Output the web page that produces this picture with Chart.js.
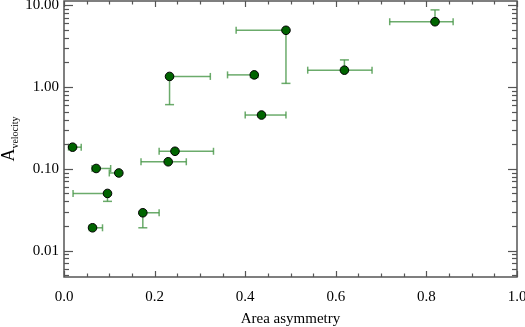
<!DOCTYPE html>
<html>
<head>
<meta charset="utf-8">
<script src="https://cdn.jsdelivr.net/npm/chart.js@4.4.1/dist/chart.umd.min.js"></script>
<style>
  html, body { margin: 0; padding: 0; background: #fff; }
  #wrap { width: 525px; height: 327px; }
</style>
</head>
<body>
<div id="wrap"><canvas id="chart"></canvas></div>
<script>
// area asymmetry vs velocity asymmetry
const areaAsym  = [0.019, 0.071, 0.121, 0.096, 0.174, 0.063, 0.245, 0.230, 0.233, 0.420, 0.436, 0.490, 0.619, 0.819];
const velAsym   = [0.184, 0.101, 0.089, 0.050, 0.029, 0.019, 0.164, 0.122, 1.35, 1.41, 0.455, 4.95, 1.61, 6.3];
// error bar ends, null where the bar is not drawn
const areaLow   = [0.010, 0.062, 0.100, 0.020, null, 0.056, 0.210, 0.170, null, 0.361, 0.400, 0.380, 0.538, 0.719];
const areaHigh  = [0.038, 0.103, null, null, 0.210, 0.085, 0.330, 0.270, 0.323, null, 0.490, null, 0.680, 0.859];
const velLow    = [null, null, null, 0.040, 0.019, null, null, null, 0.61, 1.31, null, 1.11, null, null];
const velHigh   = [null, null, null, null, null, null, null, null, null, null, null, null, 2.15, 8.8];

const xTickValues = [0, 0.2, 0.4, 0.6, 0.8, 1.0];
const yTickValues = [0.01, 0.1, 1, 10];

const serif = '"Liberation Serif", "DejaVu Serif", serif';
const frameColor = '#555';
const barColor = 'rgba(70,150,70,0.8)';

const points = areaAsym.map((x, i) => ({ x, y: velAsym[i] }));

const errorBars = {
    id: 'errorBars',
    beforeDatasetsDraw(chart) {
        const { ctx, scales: { x, y } } = chart;
        const cap = 3.5;
        ctx.save();
        ctx.strokeStyle = barColor;
        ctx.lineWidth = 1.5;
        points.forEach((p, i) => {
            const px = x.getPixelForValue(p.x);
            const py = y.getPixelForValue(p.y);
            const seg = (x1, y1, x2, y2) => {
                ctx.beginPath();
                ctx.moveTo(x1, y1);
                ctx.lineTo(x2, y2);
                ctx.stroke();
            };
            [areaLow[i], areaHigh[i]].forEach(v => {
                if (v === null) return;
                const ex = x.getPixelForValue(v);
                seg(px, py, ex, py);
                seg(ex, py - cap, ex, py + cap);
            });
            [velLow[i], velHigh[i]].forEach(v => {
                if (v === null) return;
                const ey = y.getPixelForValue(v);
                seg(px, py, px, ey);
                seg(px - cap - 1, ey, px + cap + 1, ey);
            });
        });
        ctx.restore();
    }
};

// box with inward ticks on all four sides, plus axis titles
const frame = {
    id: 'frame',
    afterDraw(chart) {
        const { ctx, chartArea: a, scales: { x, y } } = chart;
        ctx.save();
        ctx.strokeStyle = frameColor;
        ctx.lineWidth = 1.5;
        ctx.strokeRect(a.left, a.top, a.right - a.left, a.bottom - a.top);

        ctx.lineWidth = 1.2;
        const line = (x1, y1, x2, y2) => {
            ctx.beginPath();
            ctx.moveTo(x1, y1);
            ctx.lineTo(x2, y2);
            ctx.stroke();
        };

        // x ticks every 0.05, long ones at the labels
        for (let k = 0; k <= 20; k++) {
            const v = k * 0.05;
            const px = Math.round(x.getPixelForValue(v)) + 0.5;
            const len = k % 4 === 0 ? 6 : 3.5;
            line(px, a.bottom, px, a.bottom - len);
            line(px, a.top, px, a.top + len);
        }

        // y ticks: decades long, 2..9 short
        for (let e = -3; e <= 1; e++) {
            for (let m = 1; m <= 9; m++) {
                const v = m * Math.pow(10, e);
                if (v < y.min || v > y.max) continue;
                const py = Math.round(y.getPixelForValue(v)) + 0.5;
                const len = m === 1 ? 9 : 5;
                line(a.left, py, a.left + len, py);
                line(a.right, py, a.right - len, py);
            }
        }

        ctx.fillStyle = '#000';
        ctx.font = '15px ' + serif;
        ctx.textAlign = 'center';
        ctx.textBaseline = 'middle';
        ctx.fillText('Area asymmetry', (a.left + a.right) / 2, 319);

        ctx.translate(8, (a.top + a.bottom) / 2);
        ctx.rotate(-Math.PI / 2);
        ctx.textAlign = 'left';
        ctx.textBaseline = 'alphabetic';
        ctx.font = '18px ' + serif;
        const wA = ctx.measureText('A').width;
        ctx.font = '10px ' + serif;
        const wSub = ctx.measureText('velocity').width;
        const start = -(wA + wSub) / 2;
        ctx.font = '18px ' + serif;
        ctx.fillText('A', start, 6);
        ctx.font = '10px ' + serif;
        ctx.fillText('velocity', start + wA, 10);
        ctx.restore();
    }
};

new Chart(document.getElementById('chart'), {
    type: 'scatter',
    data: {
        datasets: [{
            data: points,
            backgroundColor: '#006400',
            borderColor: '#000',
            borderWidth: 1,
            pointRadius: 4.3,
        }],
    },
    options: {
        responsive: true,
        maintainAspectRatio: false,
        animation: false,
        layout: { autoPadding: false, padding: { left: 0, right: 8, top: 1, bottom: 0 } },
        plugins: {
            legend: { display: false },
            tooltip: { enabled: false },
        },
        scales: {
            x: {
                type: 'linear',
                min: 0,
                max: 1,
                grid: { display: false, drawTicks: false },
                border: { display: false },
                afterBuildTicks: (s) => { s.ticks = xTickValues.map(value => ({ value })); },
                afterFit: (s) => { s.height = 50; s.paddingLeft = 0; s.paddingRight = 0; },
                ticks: {
                    padding: 11,
                    maxRotation: 0,
                    color: '#000',
                    font: { family: serif, size: 15 },
                    callback: (v) => Number(v).toFixed(1),
                },
            },
            y: {
                type: 'logarithmic',
                min: 0.00475,
                max: 11.3,
                grid: { display: false, drawTicks: false },
                border: { display: false },
                afterBuildTicks: (s) => { s.ticks = yTickValues.map(value => ({ value })); },
                afterFit: (s) => { s.width = 64; s.paddingTop = 0; s.paddingBottom = 0; },
                ticks: {
                    padding: 5,
                    color: '#000',
                    font: { family: serif, size: 15 },
                    callback: (v) => Number(v).toFixed(2),
                },
            },
        },
    },
    plugins: [errorBars, frame],
});
</script>
</body>
</html>
